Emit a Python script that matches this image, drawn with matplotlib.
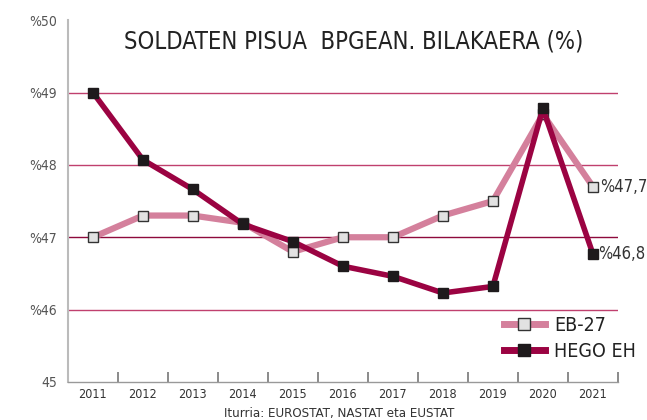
import matplotlib.pyplot as plt
import numpy as np

plt.rcParams['font.family'] = ['DejaVu Sans']
plt.rcParams['font.stretch'] = 'condensed'

# data
years = ["2011", "2012", "2013", "2014", "2015", "2016", "2017", "2018", "2019", "2020", "2021"]
eb27 = [47.0, 47.3, 47.3, 47.2, 46.8, 47.0, 47.0, 47.3, 47.5, 48.7, 47.7]
hego_eh = [49.0, 48.07, 47.66, 47.18, 46.94, 46.6, 46.46, 46.23, 46.32, 48.78, 46.77]
y_ticks = [45, 46, 47, 48, 49, 50]
y_labels = ["45", "%46", "%47", "%48", "%49", "%50"]
end_labels = ["%47,7", "%46,8"]

x = np.arange(len(years))

fig = plt.figure(figsize=(6.47, 4.2), dpi=100)
ax = fig.add_axes([0.105, 0.0905, 0.85, 0.8615])

# horizontal reference lines
for y in [46, 48, 49]:
    ax.axhline(y, color='#c0406e', linewidth=1.0, zorder=1)
ax.axhline(47, color='#8e0a3c', linewidth=1.0, zorder=1)

ax.plot(x, eb27, color='#d4809c', linewidth=4.5, marker='s', markersize=7,
        markerfacecolor='#e2e2e2', markeredgecolor='#333333', markeredgewidth=1.0,
        label='EB-27', zorder=3)
ax.plot(x, hego_eh, color='#9b0342', linewidth=4.0, marker='s', markersize=7,
        markerfacecolor='#1e1a1c', markeredgecolor='#1e1a1c',
        label='HEGO EH', zorder=4)

ax.annotate(end_labels[0], (x[-1], eb27[-1]), xytext=(5, 0), textcoords='offset points',
            va='center', ha='left', fontsize=12, color='#333333')
ax.annotate(end_labels[1], (x[-1], hego_eh[-1]), xytext=(4, 0), textcoords='offset points',
            va='center', ha='left', fontsize=12, color='#333333')

ax.set_xlim(-0.48, 10.5)
ax.set_ylim(45, 50)

ax.set_yticks(y_ticks)
ax.set_yticklabels(y_labels, fontsize=10, color='#555555')
ax.tick_params(axis='y', length=0, pad=8)

ax.set_xticks(x)
ax.set_xticklabels(years, fontsize=9, color='#333333')
ax.set_xticks(np.arange(-0.5, 11, 1), minor=True)
ax.tick_params(axis='x', which='major', length=0, pad=4)
ax.tick_params(axis='x', which='minor', direction='in', length=7, color='#777777', width=1.2)

for side in ['top', 'right']:
    ax.spines[side].set_visible(False)
ax.spines['left'].set_color('#bbbbbb')
ax.spines['left'].set_linewidth(1.5)
ax.spines['bottom'].set_color('#999999')
ax.spines['bottom'].set_linewidth(1.0)

leg = ax.legend(loc='lower right', bbox_to_anchor=(1.065, 0.01), frameon=False,
                fontsize=14, handlelength=2.1, labelspacing=0.35, handletextpad=0.5,
                markerscale=1.2)
for t in leg.get_texts():
    t.set_color('#222222')
for h in leg.legend_handles:
    h.set_linewidth(5)

fig.text(0.546, 0.9, "SOLDATEN PISUA  BPGEAN. BILAKAERA (%)", ha='center', va='center',
         fontsize=17, color='#222222')
fig.text(0.525, 0.015, "Iturria: EUROSTAT, NASTAT eta EUSTAT", ha='center', va='center',
         fontsize=9.5, color='#333333')

fig.savefig("out.png", dpi=100)
